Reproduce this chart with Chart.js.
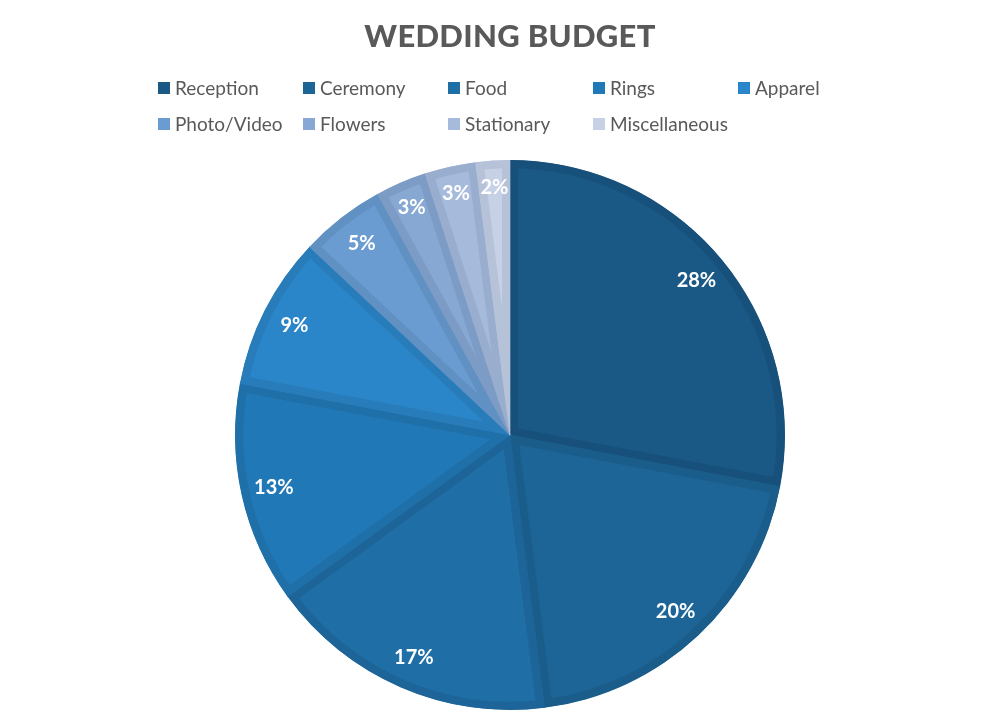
<!DOCTYPE html>
<html>
<head>
<meta charset="utf-8">
<script src="https://cdn.jsdelivr.net/npm/chart.js@4"></script>
<style>
  body { margin: 0; background: #fff; }
  #wrap { position: relative; width: 1000px; height: 714px; }
  #title { position: absolute; top: 16px; left: 10px; width: 1000px; text-align: center;
    font-family: "Lato", sans-serif; font-weight: 900; font-size: 31px; color: #595959; letter-spacing: 0.3px; }
  #legend { position: absolute; top: 74px; left: 158px; display: grid;
    grid-template-columns: repeat(5, 145px); row-gap: 9px;
    font-family: "Lato", sans-serif; font-size: 19px; color: #595959; }
  #legend div { display: flex; align-items: center; height: 27px; }
  #legend span { display: inline-block; width: 12px; height: 12px; margin-right: 5px; }
</style>
</head>
<body>
<div id="wrap">
  <div id="title">WEDDING BUDGET</div>
  <div id="legend"></div>
  <canvas id="pie" width="1000" height="714"></canvas>
</div>
<script>
const categories = ["Reception", "Ceremony", "Food", "Rings", "Apparel", "Photo/Video", "Flowers", "Stationary", "Miscellaneous"];
const shares = [28, 20, 17, 13, 9, 5, 3, 3, 2];
const fills = ["#1a5886", "#1c6596", "#1f6ea6", "#2178b6", "#2a86c8", "#6a9bd1", "#87a8d3", "#a6bbdc", "#c6d1e6"];
const edges = ["#17507b", "#1a5d8b", "#1d6599", "#1f6fa8", "#277cb9", "#6190c3", "#7c9bc5", "#99aece", "#b6c2d8"];

// html legend laid out in fixed columns like the original
let legend = document.querySelector("#legend");
categories.forEach((name, i) => {
    let item = document.createElement("div");
    let box = document.createElement("span");
    box.style.background = fills[i];
    item.appendChild(box);
    item.appendChild(document.createTextNode(name));
    legend.appendChild(item);
});

// percent labels inside each slice
const sliceLabels = {
    id: "sliceLabels",
    afterDatasetsDraw(chart) {
        const ctx = chart.ctx;
        const meta = chart.getDatasetMeta(0);
        ctx.save();
        ctx.fillStyle = "#ffffff";
        ctx.font = "bold 20px Lato, sans-serif";
        ctx.textAlign = "center";
        ctx.textBaseline = "middle";
        meta.data.forEach((arc, i) => {
            const p = arc.getProps(["x", "y", "startAngle", "endAngle", "outerRadius"], true);
            const mid = (p.startAngle + p.endAngle) / 2;
            const r = p.outerRadius * (shares[i] <= 3 ? 0.9 : 0.88);
            ctx.fillText(shares[i] + "%", p.x + Math.cos(mid) * r, p.y + Math.sin(mid) * r);
        });
        ctx.restore();
    }
};

const pieCtx = document.getElementById("pie").getContext("2d");
const pieChart = new Chart(pieCtx, {
    type: "pie",
    data: {
        labels: categories,
        datasets: [{
            data: shares,
            backgroundColor: fills,
            borderColor: edges,
            borderWidth: 8,
            borderAlign: "inner"
        }]
    },
    options: {
        responsive: false,
        animation: false,
        layout: { padding: { top: 160, bottom: 4, left: 20, right: 0 } },
        plugins: {
            legend: { display: false },
            title: { display: false },
            tooltip: { enabled: false }
        }
    },
    plugins: [sliceLabels]
});
</script>
</body>
</html>
